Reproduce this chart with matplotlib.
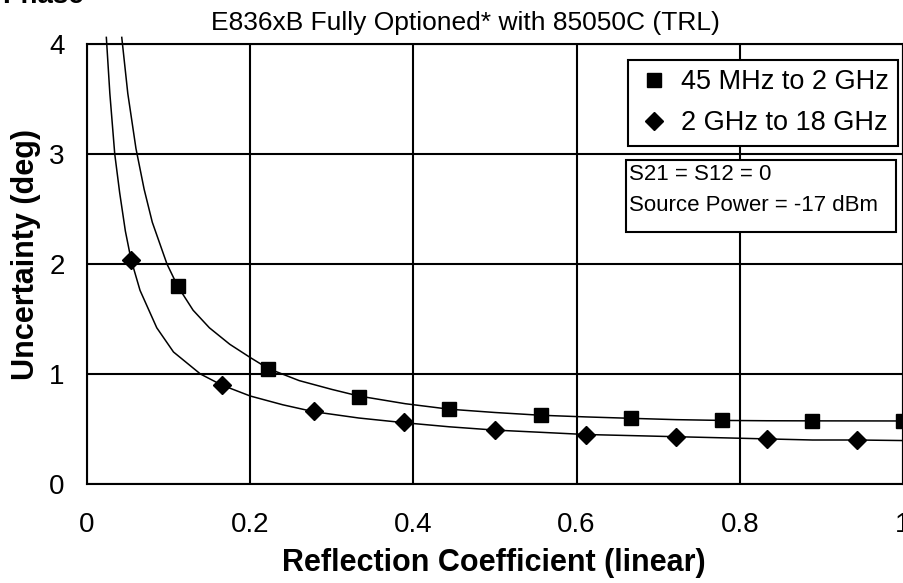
import matplotlib.pyplot as plt
from matplotlib.patches import Rectangle

# measured points (reflection coefficient, phase uncertainty in deg)
sq_x = [0.111, 0.222, 0.333, 0.444, 0.556, 0.667, 0.778, 0.889, 1.0]
sq_y = [1.80, 1.05, 0.79, 0.68, 0.63, 0.60, 0.58, 0.575, 0.575]
dia_x = [0.054, 0.165, 0.278, 0.389, 0.5, 0.611, 0.722, 0.833, 0.944]
dia_y = [2.04, 0.90, 0.66, 0.56, 0.49, 0.45, 0.43, 0.41, 0.40]

# fitted curves
curve_sq_x = [0.0426, 0.050, 0.060, 0.070, 0.080, 0.098, 0.111, 0.130, 0.150,
              0.175, 0.200, 0.222, 0.260, 0.300, 0.333, 0.390, 0.444, 0.500,
              0.556, 0.611, 0.667, 0.722, 0.778, 0.833, 0.889, 1.0]
curve_sq_y = [4.06, 3.55, 3.05, 2.68, 2.38, 2.00, 1.80, 1.58, 1.42,
              1.27, 1.15, 1.05, 0.94, 0.86, 0.80, 0.73, 0.68, 0.65,
              0.625, 0.61, 0.597, 0.585, 0.578, 0.575, 0.574, 0.573]
curve_dia_x = [0.0237, 0.028, 0.034, 0.040, 0.047, 0.054, 0.065, 0.0855, 0.106,
               0.139, 0.165, 0.200, 0.240, 0.278, 0.333, 0.389, 0.444, 0.500,
               0.556, 0.611, 0.667, 0.722, 0.778, 0.833, 0.889, 0.944, 1.0]
curve_dia_y = [4.06, 3.55, 3.00, 2.65, 2.30, 2.04, 1.76, 1.42, 1.20,
               1.00, 0.90, 0.80, 0.72, 0.657, 0.60, 0.557, 0.52, 0.49,
               0.47, 0.45, 0.44, 0.43, 0.42, 0.41, 0.40, 0.40, 0.395]

labels = ["45 MHz to 2 GHz", "2 GHz to 18 GHz"]
x_ticks = [0, 0.2, 0.4, 0.6, 0.8, 1]
x_ticklabels = ["0", "0.2", "0.4", "0.6", "0.8", "1"]
y_ticks = [0, 1, 2, 3, 4]

plt.rcParams['font.family'] = ['Liberation Sans', 'DejaVu Sans']

W, H = 904, 583
fig = plt.figure(figsize=(W / 100, H / 100), dpi=100)
ax = fig.add_axes([87 / W, 1 - 484 / H, (903 - 87) / W, (484 - 44) / H])

ax.plot(curve_sq_x, curve_sq_y, color="black", lw=1.1, clip_on=False, zorder=3)
ax.plot(curve_dia_x, curve_dia_y, color="black", lw=1.1, clip_on=False, zorder=3)
ax.plot(sq_x, sq_y, "s", color="black", ms=10.5, label=labels[0], clip_on=False, zorder=4)
ax.plot(dia_x, dia_y, "D", color="black", ms=9.5, label=labels[1], clip_on=False, zorder=4)

ax.set_xlim(0, 1)
ax.set_ylim(0, 4)
ax.set_xticks(x_ticks)
ax.set_xticklabels(x_ticklabels)
ax.set_yticks(y_ticks)
ax.tick_params(length=0, labelsize=20)
ax.tick_params(axis="y", pad=16)
ax.tick_params(axis="x", pad=20)
ax.grid(True, color="black", lw=1.5)
for s in ax.spines.values():
    s.set_color("black")
    s.set_linewidth(1.5)

ax.set_xlabel("Reflection Coefficient (linear)", fontsize=22, fontweight="bold")
ax.set_ylabel("Uncertainty (deg)", fontsize=22, fontweight="bold")
ax.xaxis.set_label_coords(494 / W, 1 - 563 / H, transform=fig.transFigure)
ax.yaxis.set_label_coords(26 / W, 1 - 254 / H, transform=fig.transFigure)
ax.xaxis.label.set_va("center")
ax.yaxis.label.set_va("center")

fig.text(465 / W, 1 - 23 / H, "E836xB Fully Optioned* with 85050C (TRL)",
         ha="center", va="center", fontsize=19)
fig.text(2 / W, 1 - 3 / H, "Phase", ha="left", va="baseline", fontsize=20, fontweight="bold")

leg = ax.legend(loc="upper right", bbox_to_anchor=(898 / W, 1 - 60 / H),
                bbox_transform=fig.transFigure, borderaxespad=0, fontsize=19.5,
                fancybox=False, framealpha=1, edgecolor="black",
                handletextpad=0.4, handlelength=1.2, labelspacing=0.55, borderpad=0.35)
leg.get_frame().set_linewidth(1.5)

# note box
fig.patches.append(Rectangle((626 / W, 1 - 232 / H), (896 - 626) / W, (232 - 160) / H,
                             transform=fig.transFigure, facecolor="white",
                             edgecolor="black", lw=1.5, zorder=5))
fig.text(629 / W, 1 - 174 / H, "S21 = S12 = 0", ha="left", va="center", fontsize=16, zorder=6)
fig.text(629 / W, 1 - 206 / H, "Source Power = -17 dBm", ha="left", va="center", fontsize=16, zorder=6)

fig.savefig("out.png", dpi=100)
